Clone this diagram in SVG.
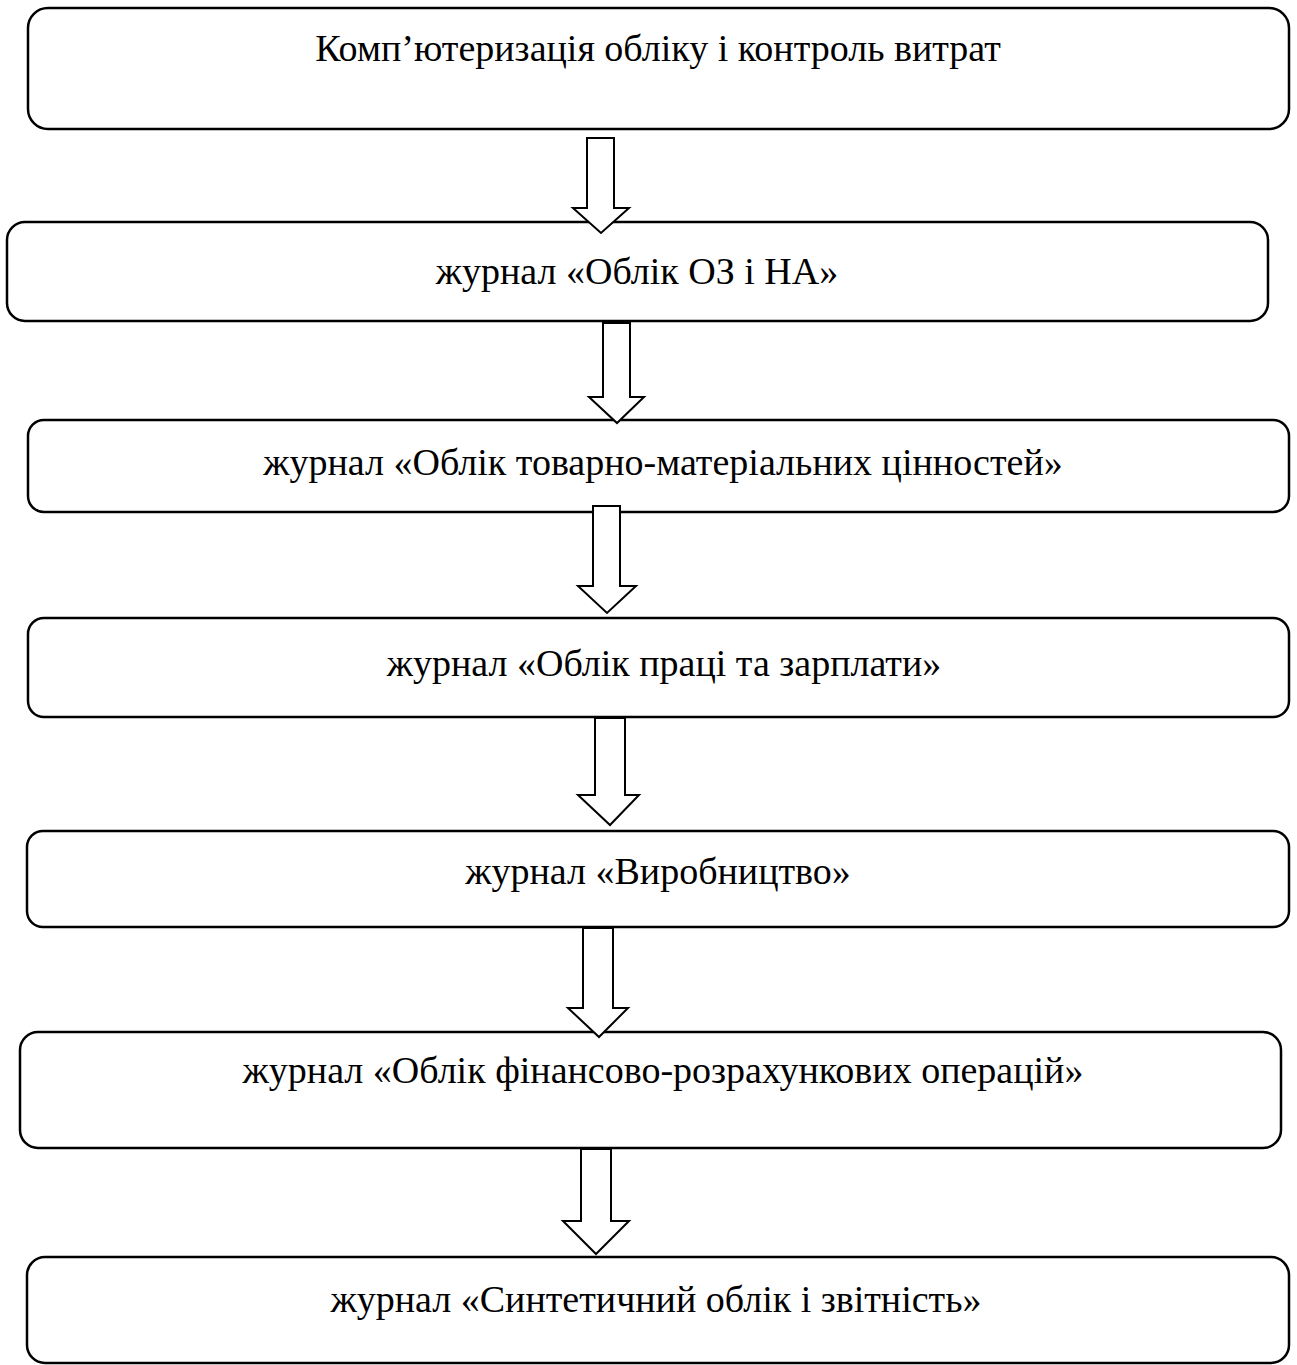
<svg xmlns="http://www.w3.org/2000/svg" width="1297" height="1365" viewBox="0 0 1297 1365">
<style>
.box{fill:#fff;stroke:#000;stroke-width:2.5}
.arr{fill:#fff;stroke:#000;stroke-width:2;stroke-linejoin:miter}
.t{font-family:"Liberation Serif","Times New Roman",serif;font-size:38px;fill:#000;text-anchor:middle}
</style>
<rect width="1297" height="1365" fill="#fff"/>
<g id="n1"><rect class="box" x="28" y="8" width="1261" height="121" rx="20"/><text class="t" x="658" y="61">Комп’ютеризація обліку і контроль витрат</text></g>
<g id="n2"><rect class="box" x="7" y="222" width="1261" height="99" rx="18"/><text class="t" x="637" y="284">журнал «Облік ОЗ і НА»</text></g>
<g id="n3"><rect class="box" x="28" y="420" width="1261" height="92" rx="16"/><text class="t" x="663" y="475">журнал «Облік товарно-матеріальних цінностей»</text></g>
<g id="n4"><rect class="box" x="28" y="618" width="1261" height="99" rx="16"/><text class="t" x="664" y="676">журнал «Облік праці та зарплати»</text></g>
<g id="n5"><rect class="box" x="27" y="831" width="1262" height="96" rx="16"/><text class="t" x="658" y="884">журнал «Виробництво»</text></g>
<g id="n6"><rect class="box" x="20" y="1032" width="1261" height="116" rx="18"/><text class="t" x="663" y="1083">журнал «Облік фінансово-розрахункових операцій»</text></g>
<g id="n7"><rect class="box" x="27" y="1257" width="1262" height="106" rx="18"/><text class="t" x="656" y="1312">журнал «Синтетичний облік і звітність»</text></g>
<g id="connectors">
<polygon class="arr" points="587,138 614,138 614,208 629,208 601,233 573,208 587,208"/>
<polygon class="arr" points="603,323 630,323 630,397 644,397 617,423 589,397 603,397"/>
<polygon class="arr" points="593,506 620,506 620,586 636,586 607,613 578,586 593,586"/>
<polygon class="arr" points="595,718 625,718 625,795 639,795 610,825 578,795 595,795"/>
<polygon class="arr" points="583,928 613,928 613,1008 628,1008 599,1037 568,1008 583,1008"/>
<polygon class="arr" points="581,1149 611,1149 611,1221 629,1221 596,1254 563,1221 581,1221"/>
</g>
</svg>
